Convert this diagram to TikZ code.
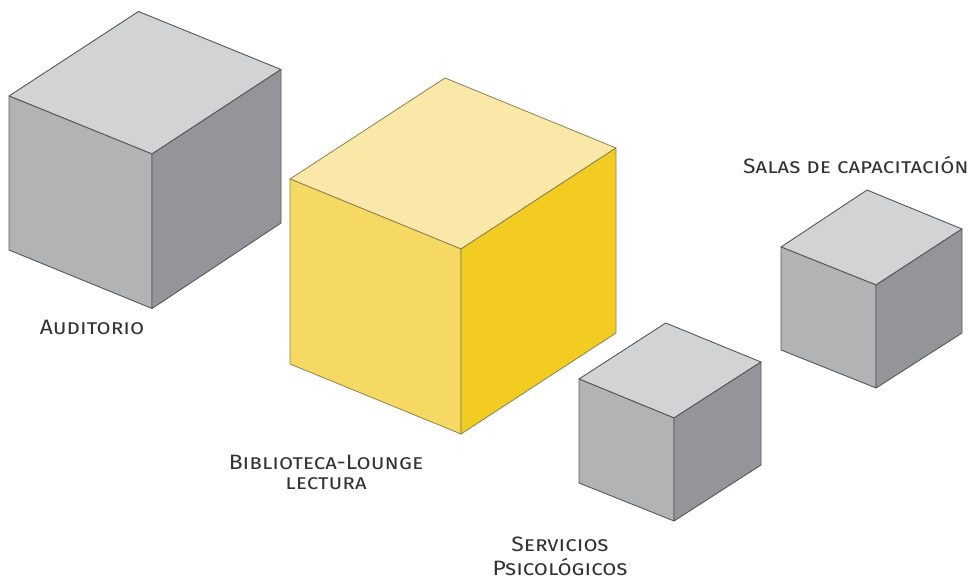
\documentclass[tikz,border=0pt]{standalone}
\usepackage{fontspec}
\usepackage{xcolor}
\setmainfont[FakeStretch=1.1]{Fira Sans}
\usetikzlibrary{positioning}

\definecolor{greytop}{HTML}{D1D3D4}
\definecolor{greyleft}{HTML}{B1B3B5}
\definecolor{greyright}{HTML}{939598}
\definecolor{greyline}{HTML}{5A5B5D}
\definecolor{yellowtop}{HTML}{FAE8A8}
\definecolor{yellowleft}{HTML}{F6D963}
\definecolor{yellowright}{HTML}{F2CC20}
\definecolor{yellowline}{HTML}{8F8250}
\definecolor{labeltext}{HTML}{333333}

\tikzset{
  label text/.style={text=labeltext, font=\fontsize{15.6}{15}\selectfont\scshape, align=center, inner sep=0pt},
  grey cube/.style={draw=greyline, line width=.7pt, line join=round},
  yellow cube/.style={draw=yellowline, line width=.6pt, line join=round}
}

% top, right, left, centre, bottom, right bottom, left bottom, style prefix
\newcommand{\cubo}[8]{
  \path[#8 cube, fill=#8top]   #1 -- #2 -- #4 -- #3 -- cycle;
  \path[#8 cube, fill=#8left]  #3 -- #4 -- #5 -- #7 -- cycle;
  \path[#8 cube, fill=#8right] #4 -- #2 -- #6 -- #5 -- cycle;
}

\begin{document}
\begin{tikzpicture}[x=.75pt, y=-.75pt]
  \useasboundingbox (0,0) rectangle (974,580);

  \cubo{(138.5,11.5)}{(281,69.5)}{(9,96)}{(152,154)}{(152,308.5)}{(281,223)}{(9,250)}{grey}
  \cubo{(445,78)}{(616,148)}{(290,179)}{(461,249)}{(461,434)}{(616,333)}{(290,364)}{yellow}
  \cubo{(665.7,323)}{(761,362)}{(579,379)}{(674,418)}{(674,521)}{(761,465)}{(579,483)}{grey}
  \cubo{(867,190)}{(962,229)}{(781,247)}{(876,285)}{(876,388)}{(962,333)}{(781,350)}{grey}

  \node[label text] (auditorio)  at (92,327)  {Auditorio};
  \node[label text] (biblioteca) at (326,472) {Biblioteca-Lounge\\lectura};
  \node[label text] (servicios)  at (560,556) {Servicios\\[3pt]Psicológicos};
  \node[label text] (salas)      at (856,165) {Salas de capacitación};
\end{tikzpicture}
\end{document}
